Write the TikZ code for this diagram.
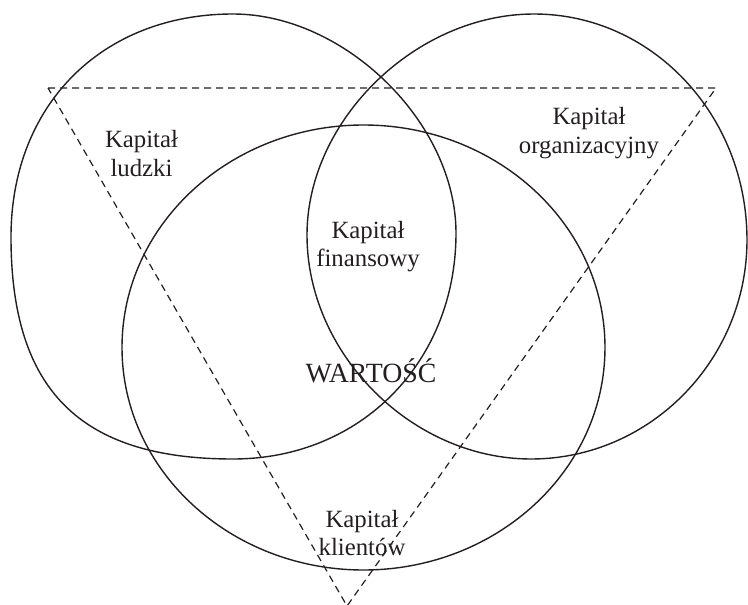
\documentclass[tikz,border=0pt]{standalone}
\usepackage{fontspec}
\setmainfont{Liberation Serif}
\definecolor{linecol}{HTML}{231F20}
\definecolor{txtcol}{HTML}{231F20}
\begin{document}
\begin{tikzpicture}[x=1pt,y=-1pt,
  shape line/.style={draw=linecol, line width=1.4pt},
  tri line/.style={draw=linecol, line width=1.2pt, dash pattern=on 7pt off 5pt},
  lbl/.style={anchor=base, text=txtcol, font=\fontsize{24.8}{29.5}\selectfont, inner sep=0pt},
  big lbl/.style={anchor=base, text=txtcol, font=\fontsize{27.8}{33}\selectfont, inner sep=0pt}]
\useasboundingbox (0,0) rectangle (748,605);

% left blob (Kapital ludzki)
\draw[shape line] (233,14) .. controls (102,14) and (11,105) .. (11,237)
  .. controls (11,390) and (80,459) .. (233,459)
  .. controls (361,459) and (456,362) .. (456,233)
  .. controls (456,123) and (345,14) .. (233,14) -- cycle;

% right blob (Kapital organizacyjny)
\draw[shape line] (534,14) .. controls (416,14) and (307,120) .. (307,235)
  .. controls (307,354) and (412,459) .. (531,459)
  .. controls (650,459) and (747,360) .. (747,240)
  .. controls (747,115) and (652,14) .. (534,14) -- cycle;

% bottom ellipse (Kapital klientow)
\draw[shape line] (363.5,347.5) ellipse [x radius=241.5, y radius=222.5];

% dashed triangle
\coordinate (tA) at (48,88);
\coordinate (tB) at (716,88);
\coordinate (tC) at (347,606);
\draw[tri line] (tA) -- (tB) -- (tC) -- cycle;

% labels
\node[lbl] (lud1) at (141.5,147) {Kapitał};
\node[lbl] (lud2) at (141.5,176) {ludzki};
\node[lbl] (org1) at (589,124) {Kapitał};
\node[lbl] (org2) at (589,153) {organizacyjny};
\node[lbl] (fin1) at (368,238) {Kapitał};
\node[lbl] (fin2) at (368,266) {finansowy};
\node[big lbl] (wart) at (371,382) {WARTOŚĆ};
\node[lbl] (kli1) at (362,527) {Kapitał};
\node[lbl] (kli2) at (362,555) {klientów};
\end{tikzpicture}
\end{document}
